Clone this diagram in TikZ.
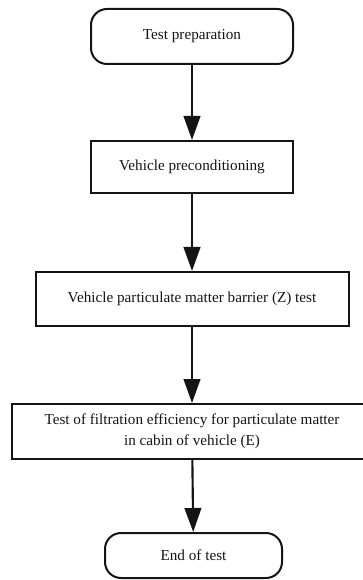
\documentclass[tikz,border=0pt]{standalone}
\usepackage{fontspec}
\setmainfont{Liberation Serif}
\usepackage{xcolor}
\usepackage{tikz}
\usetikzlibrary{arrows.meta,positioning}
\definecolor{cInk}{HTML}{141414}
\tikzset{
  pbox/.style={draw=cInk,line width=1.5pt,align=center,font=\fontsize{11.4}{15.5}\selectfont,text=cInk,inner sep=3pt},
  term/.style={pbox,rounded corners=12pt},
  arr/.style={-{Triangle[length=18pt,width=12.5pt]},line width=1.6pt,color=cInk},
}

\begin{document}
\begin{tikzpicture}[x=0.75pt,y=-0.75pt]
    \useasboundingbox (0,0) rectangle (362,580);
    % pixel grid of the reference, origin top left
    \node[term,minimum width=151.5pt,minimum height=41.25pt] (prep) at (192,36.5) {Test preparation};
    \node[pbox,minimum width=151.5pt,minimum height=39pt]    (cond) at (192,167) {Vehicle preconditioning};
    \node[pbox,minimum width=234.75pt,minimum height=40.5pt] (barr) at (192,299) {Vehicle particulate matter barrier (Z) test};
    \node[pbox,minimum width=270pt,minimum height=41.25pt]   (filt) at (192,431.5) {Test of filtration efficiency for particulate matter\\ in cabin of vehicle (E)};
    \node[term,minimum width=132.75pt,minimum height=33.75pt] (stop) at (193.5,555.5) {End of test};
    \draw[arr] (prep) -- (cond);
    \draw[arr] (cond) -- (barr);
    \draw[arr] (barr) -- (filt);
    \draw[arr] (filt) -- (stop);
  \end{tikzpicture}
\end{document}
